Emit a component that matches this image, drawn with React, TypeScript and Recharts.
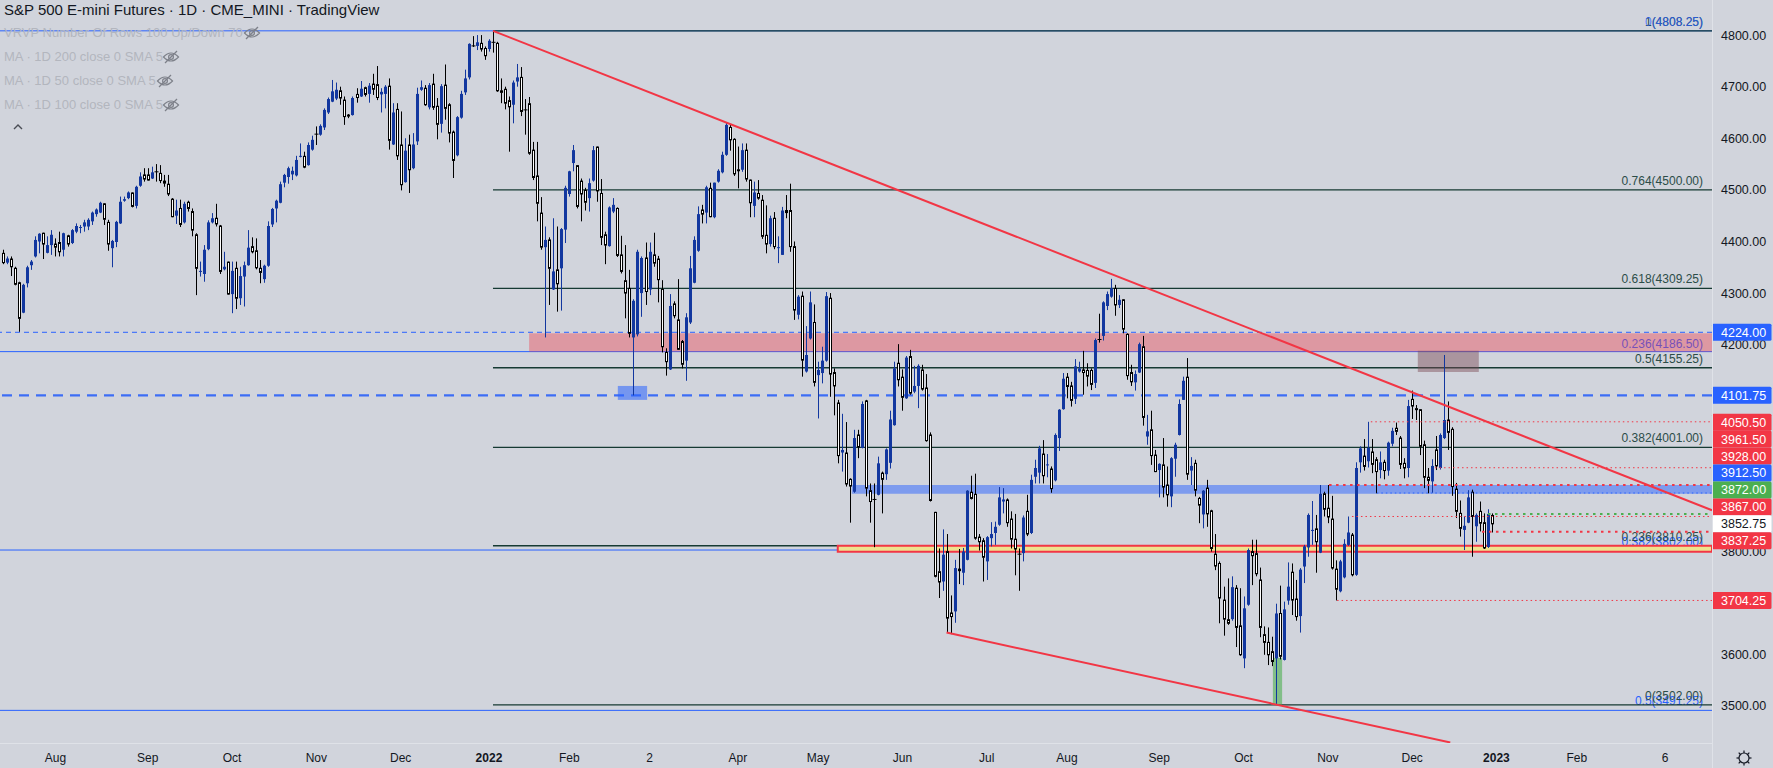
import React from 'react';
import { ComposedChart, Bar, XAxis, YAxis, ReferenceLine, ReferenceArea } from 'recharts';

const W = 1773;
const H = 768;
const BG = '#d1d4dc';
const FONT = '"Liberation Sans", Arial, sans-serif';
const UP = '#12379f';
const BLUE = '#2962ff';
const RED = '#f23645';
const GREEN = '#4caf50';
const FIB_DARK = '#163a33';
const FIB_TEXT = '#2c4c48';

// Daily candles, [open, high, low, close]; index 0 = 14 Jul 2021
const candlesA: number[][] = [
  [4377,4384,4356,4359],[4359,4371,4356,4367],[4366,4371,4333,4351],[4348,4351,4315,4317],[4320,4322,4225,4251],
  [4262,4318,4261,4316],[4319,4353,4311,4350],[4354,4364,4345,4361],[4371,4410,4369,4403],[4400,4416,4377,4415],
  [4416,4417,4366,4395],[4378,4410,4377,4393],[4393,4422,4374,4413],[4395,4406,4371,4389],[4398,4419,4371,4380],
  [4384,4417,4371,4416],[4411,4413,4390,4395],[4397,4424,4395,4422],[4419,4435,4416,4430],[4427,4432,4416,4428],
  [4429,4442,4419,4437],[4429,4445,4422,4442],[4439,4458,4432,4456],[4453,4464,4448,4462],[4456,4477,4455,4475],
  [4473,4474,4432,4443],[4437,4442,4382,4395],[4387,4403,4350,4401],[4399,4440,4389,4438],[4435,4487,4434,4477],
  [4479,4487,4477,4482],[4484,4497,4482,4495],[4494,4495,4466,4468],[4469,4508,4464,4506],[4508,4534,4506,4526],
  [4529,4542,4516,4521],[4529,4542,4518,4519],[4522,4545,4521,4534],[4535,4550,4516,4535],[4532,4548,4513,4518],
  [4517,4529,4506,4513],[4511,4529,4488,4492],[4482,4484,4447,4448],[4450,4481,4434,4460],[4464,4481,4428,4433],
  [4437,4477,4435,4473],[4476,4479,4458,4464],[4458,4464,4410,4422],[4413,4416,4296,4348],[4341,4361,4332,4343],
  [4337,4393,4322,4384],[4385,4441,4383,4437],[4437,4455,4435,4445],[4445,4473,4429,4434],[4430,4432,4337,4342],
  [4346,4380,4344,4351],[4360,4361,4297,4298],[4298,4361,4261,4343],[4348,4361,4269,4290],[4290,4351,4277,4333],
  [4332,4361,4274,4354],[4354,4422,4353,4388],[4390,4408,4377,4380],[4382,4406,4346,4349],[4348,4364,4319,4340],
  [4327,4355,4320,4353],[4353,4439,4351,4430],[4433,4465,4428,4463],[4464,4481,4437,4479],[4475,4516,4474,4511],
  [4514,4531,4505,4529],[4525,4545,4512,4542],[4530,4545,4519,4537],[4528,4566,4526,4558],[4564,4590,4563,4566],
  [4565,4574,4542,4544],[4548,4592,4547,4587],[4578,4605,4576,4597],[4608,4623,4587,4608],[4607,4627,4605,4624],
  [4621,4658,4616,4655],[4650,4679,4647,4676],[4671,4713,4670,4691],[4677,4708,4674,4694],[4692,4700,4665,4678],
  [4674,4681,4626,4642],[4645,4647,4639,4643],[4645,4681,4644,4678],[4685,4697,4669,4679],[4681,4711,4680,4696],
  [4698,4700,4681,4685],[4686,4707,4669,4702],[4705,4725,4684,4695],[4704,4740,4674,4679],[4685,4697,4650,4690],
  [4686,4703,4658,4700],[4701,4716,4578,4596],[4588,4668,4587,4650],[4656,4668,4558,4566],[4587,4652,4499,4510],
  [4515,4600,4514,4576],[4587,4607,4494,4539],[4542,4610,4540,4588],[4594,4698,4587,4686],[4694,4712,4692,4699],
  [4697,4703,4663,4665],[4660,4707,4656,4703],[4705,4725,4655,4660],[4662,4678,4598,4627],[4628,4705,4611,4701],
  [4703,4743,4636,4658],[4665,4668,4592,4610],[4612,4615,4523,4557],[4567,4643,4565,4641],[4640,4692,4638,4686],
  [4689,4733,4684,4716],[4718,4784,4714,4783],[4779,4798,4777,4779],[4779,4800,4771,4786],[4784,4800,4768,4773],
  [4774,4778,4752,4760],
];

const candlesB: number[][] = [
  [4773,4792,4768,4789],[4786,4808.25,4766,4786],[4784,4787,4690,4692],[4692,4716,4668,4689],[4695,4700,4656,4668],
  [4673,4681,4574,4661],[4665,4712,4629,4708],[4710,4744,4700,4718],[4718,4738,4643,4652],[4655,4676,4607,4655],
  [4667,4680,4568,4571],[4577,4593,4519,4524],[4527,4593,4439,4474],[4455,4486,4384,4389],[4389,4429,4214,4403],
  [4403,4408,4277,4348],[4307,4445,4306,4342],[4345,4429,4264,4318],[4348,4426,4266,4424],[4423,4508,4397,4504],
  [4492,4537,4487,4536],[4552,4587,4536,4577],[4547,4548,4464,4468],[4517,4522,4439,4492],[4499,4504,4460,4476],
  [4484,4522,4458,4513],[4518,4585,4516,4577],[4583,4584,4477,4498],[4493,4521,4393,4408],[4413,4419,4356,4393],
  [4391,4468,4390,4466],[4458,4484,4455,4471],[4464,4466,4370,4373],[4374,4411,4338,4342],[4324,4393,4251,4300],
  [4309,4345,4214,4222],[4214,4288,4101.75,4285],[4220,4384,4216,4380],[4300,4371,4254,4368],[4368,4398,4277,4303],
  [4307,4398,4296,4380],[4374,4417,4351,4358],[4366,4372,4282,4326],[4307,4325,4185,4196],[4185,4193,4140,4167],
  [4152,4298,4151,4275],[4279,4284,4251,4256],[4248,4327,4190,4191],[4206,4209,4154,4162],[4169,4261,4130,4253],
  [4243,4372,4240,4348],[4320,4410,4319,4403],[4382,4468,4380,4453],[4461,4471,4435,4453],[4456,4508,4435,4505],
  [4503,4514,4447,4448],[4447,4514,4445,4514],[4516,4540,4514,4537],[4534,4574,4532,4568],[4568,4630,4566,4626],
  [4621,4626,4576,4597],[4598,4600,4527,4531],[4539,4584,4503,4538],[4539,4590,4535,4577],[4577,4590,4516,4521],
  [4519,4520,4447,4475],[4469,4516,4447,4495],[4493,4519,4481,4484],[4480,4490,4405,4410],[4412,4470,4377,4395],
  [4395,4450,4390,4445],[4445,4457,4385,4390],[4388,4410,4358,4389],[4374,4467,4374,4460],[4460,4490,4445,4456],
  [4460,4512,4380,4390],[4390,4400,4248,4267],[4258,4296,4249,4293],[4294,4303,4138,4170],[4148,4236,4146,4180],
  [4212,4303,4210,4282],[4243,4278,4119,4127],[4141,4167,4057,4151],[4145,4196,4125,4169],[4169,4302,4167,4294],
  [4290,4300,4099,4143],[4146,4154,4063,4120],[4087,4093,3970,3985],[3991,4066,3954,3996],[3990,4050,3925,3930],
  [3939,3941,3855,3926],[3915,4035,3913,4019],[4025,4035,3980,4002],[4000,4090,3999,4085],[4091,4093,3906,3922],
  [3917,3931,3855,3896],[3900,3931,3807.5,3900],[3909,3983,3908,3970],[3951,3954,3873,3939],[3949,3999,3938,3997],
  [3971,4072,3960,4055],[4044,4167,4043,4154],[4164,4201,4119,4132],[4137,4152,4072,4098],[4096,4178,4095,4175],
  [4177,4190,4103,4106],[4109,4159,4106,4120],[4120,4162,4077,4159],[4151,4161,4111,4114],[4116,4143,4012,4014],
  [4025,4030,3896,3898],[3875,3876,3749,3751],[3760,3805,3709,3740],[3741,3842,3723,3793],[3799,3833,3642,3670],
  [3680,3714,3639,3673],[3683,3783,3661,3767],[3765,3804,3736,3762],[3758,3806,3734,3799],[3783,3918,3782,3917],
  [3914,3946,3900,3902],[3910,3950,3822,3825],[3827,3833,3801,3818],[3820,3825,3741,3788],[3780,3829,3744,3827],
  [3825,3856,3809,3833],[3835,3857,3812,3847],[3851,3924,3849,3904],[3896,3922,3873,3900],[3899,3902,3847,3855],
];

const candlesC: number[][] = [
  [3862,3877,3805,3823],[3823,3872,3753,3804],[3794,3805,3723,3794],[3796,3869,3780,3865],[3877,3909,3829,3833],
  [3835,3948,3833,3938],[3944,3977,3931,3961],[3952,4004,3931,3999],[3988,4015,3931,3946],[3966,3988,3943,3968],
  [3959,3964,3913,3921],[3937,4028,3935,4025],[4019,4075,3994,4074],[4075,4145,4074,4134],[4137,4145,4096,4119],
  [4120,4128,4080,4092],[4095,4172,4085,4158],[4148,4167,4146,4154],[4151,4188,4103,4146],[4150,4164,4119,4139],
  [4150,4154,4112,4123],[4126,4212,4116,4209],[4210,4260,4204,4210],[4217,4284,4208,4282],[4275,4303,4267,4298],
  [4293,4327.5,4291,4309],[4309,4316,4256,4277],[4277,4296,4271,4287],[4287,4288,4222,4230],[4220,4222,4132,4140],
  [4146,4161,4120,4128],[4127,4150,4111,4143],[4146,4204,4145,4201],[4196,4217,4043,4059],[4022,4064,4006,4032],
  [4035,4072,3967,3985],[3986,3996,3953,3954],[3957,3970,3904,3969],[3967,4019,3904,3924],[3928,3964,3886,3909],
  [3906,3982,3885,3980],[3979,4010,3944,4006],[4025,4094,4024,4085],[4093,4138,4093,4130],[4137,4174,3938,3949],
  [3956,3982,3928,3965],[3970,3977,3906,3918],[3902,3905,3854,3889],[3871,3918,3844,3917],[3922,3938,3847,3872],
  [3878,3880,3799,3805],[3794,3833,3763,3771],[3776,3780,3660,3709],[3705,3731,3636,3668],[3667,3747,3657,3660],
  [3668,3751,3665,3730],[3728,3734,3614,3652],[3655,3728,3597,3599],[3592,3712,3573,3689],[3696,3805,3694,3802],
  [3799,3822,3734,3791],[3795,3822,3751,3756],[3744,3768,3633,3652],[3638,3654,3599,3623],[3623,3652,3579,3599],
  [3605,3634,3577,3586],[3592,3698,3502,3679],[3679,3733,3590,3596],[3589,3702,3588,3687],[3704,3778,3696,3731],
  [3759,3776,3676,3705],[3707,3744,3665,3673],[3674,3767,3642,3764],[3770,3812,3738,3809],[3807,3873,3789,3870],
  [3839,3897,3812,3841],[3843,3870,3758,3818],[3797,3928,3796,3911],[3911,3915,3867,3881],[3883,3928,3854,3866],
  [3862,3907,3764,3767],[3765,3782,3704.25,3726],[3722,3783,3720,3780],[3749,3823,3747,3814],[3812,3867,3810,3836],
  [3831,3835,3751,3754],[3754,3972,3752,3961],[3972,4003,3952,3999],[3984,4017,3956,3964],[3974,4050.5,3962,4000],
  [3992,4017,3951,3968],[3977,3982,3912,3954],[3957,3993,3941,3972],[3972,3977,3939,3956],[3956,4012,3946,4010],
  [4008,4039,4003,4033],[4038,4049,4025,4032],[4019,4023,3959,3968],[3970,3980,3941,3961],[3961,4093,3943,4081],
  [4094,4111,4056,4081],[4076,4083,4054,4075],[4074,4075,3986,4003],[4006,4014,3922,3943],[3943,3961,3912,3937],
  [3935,3978,3913,3965],[3996,4023,3957,3965],[3961,4028,3958,4025],[4019,4180,4017,4054],[4054,4090,3996,4030],
  [4036,4040,3907,3925],[3920,3932,3864,3877],[3873,3898,3828,3844],[3841,3867,3802,3849],[3855,3918,3854,3904],
  [3914,3919,3789,3867],[3848,3873,3818,3870],[3877,3896,3838,3854],[3855,3873,3804,3806],[3808,3881,3806,3872],
  [3869,3873,3836,3852.75],
];

const monthTickIdx = [13, 36, 57, 78, 99, 121, 141, 161, 183, 203, 224, 245, 265, 288, 309, 330, 351, 372, 392, 414];
const monthTickLabels = ['Aug', 'Sep', 'Oct', 'Nov', 'Dec', '2022', 'Feb', '2', 'Apr', 'May', 'Jun', 'Jul', 'Aug', 'Sep', 'Oct', 'Nov', 'Dec', '2023', 'Feb', '6'];
// price ticks visible on the scale (others are covered by the price tags)
const priceTicks = [3500, 3600, 3800, 4200, 4300, 4400, 4500, 4600, 4700, 4800];

const X_MIN = -0.82;
const X_MAX = 425.7;
const Y_MIN = 3428;
const Y_MAX = 4868;

// Fibonacci retracement 4808.25 -> 3502 (drawn from 4 Jan 2022)
const fibStartIdx = 122;
const fibPrices = [4808.25, 4500, 4309.25, 4155.25, 4001, 3810.25, 3502];
const fibLabels = ['1(4808.25)', '0.764(4500.00)', '0.618(4309.25)', '0.5(4155.25)', '0.382(4001.00)', '0.236(3810.25)', '0(3502.00)'];
// Long-term blue fib levels
const blueFibPrices = [4808.25, 4186.5, 3802, 3491.25];
const blueFibLabels = ['0(4808.25)', '0.236(4186.50)', '0.382(3802.00)', '0.5(3491.25)'];

// Zones [x1, x2, lowPrice, highPrice]
const pinkZone = [131, X_MAX, 4186.5, 4222];
const blueZone = [211.4, X_MAX, 3911, 3928];
const yellowZone = [207.9, X_MAX, 3798.5, 3810.5];
const febBox = [153.1, 160.4, 4093, 4120];
const octBox = [316.3, 318.6, 3502, 3593];
const decBox = [352.4, 367.6, 4147, 4188];

// trendlines [x1, p1, x2, p2]
const upperTrend = [122, 4808.25, 425.7, 3879];
const lowerTrend = [235, 3642, 360.5, 3429];

// dotted levels [startIdx, price, color, heavy]
const dottedLevels: [number, number, string, boolean][] = [
  [340.7, 4050.5, RED, false],
  [356.7, 3961.5, RED, false],
  [330.3, 3928, RED, true],
  [342.2, 3912.5, BLUE, false],
  [369.9, 3872, GREEN, true],
  [336, 3867, RED, false],
  [368.4, 3837.25, RED, true],
  [332.3, 3704.25, RED, false],
];

const stackPrices = [4050.5, 3961.5, 3928, 3912.5, 3872, 3867, 3852.75, 3837.25];
const stackColors = [RED, RED, RED, BLUE, GREEN, RED, '#ffffff', RED];
const singleTags: [number, string][] = [[4224, BLUE], [4101.75, BLUE], [3704.25, RED]];

const allCandles = [...candlesA, ...candlesB, ...candlesC];
const data = allCandles.map((k, i) => ({ i, o: k[0], h: k[1], l: k[2], c: k[3], range: [k[2], k[1]] }));

const fmt = (v: number) => v.toFixed(2);

const Candle = (props: any) => {
  const { x, y, width, height, payload } = props;
  if (!payload || x == null) return null;
  const { o, h, l, c } = payload;
  const top = Math.min(y, y + height);
  const bot = Math.max(y, y + height);
  const span = h - l || 1;
  const py = (v: number) => top + ((h - v) / span) * (bot - top);
  const cx = Math.round(x + width / 2 - 0.5) + 0.5;
  const bTop = py(Math.max(o, c));
  const bBot = py(Math.min(o, c));
  if (c > o) {
    return (
      <g>
        <line x1={cx} x2={cx} y1={top} y2={bot} stroke={UP} strokeWidth={1} />
        <rect x={cx - 1.5} y={bTop} width={3} height={Math.max(1, bBot - bTop)} fill={UP} />
      </g>
    );
  }
  if (c === o) {
    return (
      <g>
        <line x1={cx} x2={cx} y1={top} y2={bot} stroke="#000" strokeWidth={1} />
        <line x1={cx - 2} x2={cx + 2} y1={bTop} y2={bTop} stroke="#000" strokeWidth={1} />
      </g>
    );
  }
  return (
    <g>
      <line x1={cx} x2={cx} y1={top} y2={bot} stroke="#000" strokeWidth={1} />
      <rect x={cx - 1} y={bTop} width={2} height={Math.max(1, bBot - bTop)} fill="#ffffff" stroke="#000" strokeWidth={1} />
    </g>
  );
};

const fibLabel = (text: string, color: string, dy: number, opacity = 1) => (p: any) => {
  const vb = p.viewBox || {};
  return (
    <text x={vb.x + vb.width - 9} y={vb.y + dy} textAnchor="end" fill={color} fillOpacity={opacity} fontSize={12} fontFamily={FONT}>
      {text}
    </text>
  );
};

const Tag = ({ y, text, bg }: { y: number; text: string; bg: string }) => (
  <g>
    <rect x={1712} y={y - 8.5} width={59.5} height={17} fill={bg} rx={1.5} />
    <text x={1721} y={y + 4.5} fill={bg === '#ffffff' ? '#131722' : '#ffffff'} fontSize={12.5} fontFamily={FONT}>
      {text}
    </text>
  </g>
);

const singleTagLabel = (price: number, bg: string) => (p: any) => {
  const vb = p.viewBox || {};
  return <Tag y={vb.y} text={fmt(price)} bg={bg} />;
};

const stackLabel = (p: any) => {
  const vb = p.viewBox || {};
  const anchor = 6;
  return (
    <g>
      {stackPrices.map((pr, k) => (
        <Tag key={k} y={vb.y + (k - anchor) * 16.95} text={fmt(pr)} bg={stackColors[k]} />
      ))}
    </g>
  );
};

const XTick = (p: any) => {
  const idx = monthTickIdx.indexOf(p.payload.value);
  const label = monthTickLabels[idx] || '';
  const bold = /^\d{4}$/.test(label);
  return (
    <text x={p.x} y={762} textAnchor="middle" fill="#131722" fontSize={12} fontWeight={bold ? 700 : 400} fontFamily={FONT}>
      {label}
    </text>
  );
};

const YTick = (p: any) => (
  <text x={1721} y={p.y + 4.5} fill="#131722" fontSize={12.5} fontFamily={FONT}>
    {fmt(p.payload.value)}
  </text>
);

const EyeOff = ({ x, y }: { x: number; y: number }) => (
  <svg style={{ position: 'absolute', left: x - 9, top: y - 8 }} width={18} height={16} viewBox="-9 -8 18 16">
    <path d="M-7.5,0 Q0,-8 7.5,0 Q0,8 -7.5,0 Z" fill="none" stroke="#7d8089" strokeWidth={1.2} />
    <circle r={2.4} fill="none" stroke="#7d8089" strokeWidth={1.2} />
    <line x1={-6} y1={6} x2={6} y2={-6} stroke="#7d8089" strokeWidth={1.3} />
  </svg>
);

const legendRows: [string, number, number][] = [
  ['VRVP Number Of Rows 100 Up/Down 70', 33, 252],
  ['MA · 1D 200 close 0 SMA 5', 57, 171],
  ['MA · 1D 50 close 0 SMA 5', 81, 165],
  ['MA · 1D 100 close 0 SMA 5', 105, 171],
];

const margin = { top: 0, right: 0, bottom: 0, left: 0 };

export default function App() {
  return (
    <div style={{ position: 'absolute', left: 0, top: 0, width: W, height: H, background: BG, overflow: 'hidden', fontFamily: FONT }}>
      <div style={{ position: 'absolute', left: 0, top: 0 }}>
        <ComposedChart width={W} height={H} data={data} margin={margin}>
          <XAxis dataKey="i" type="number" domain={[X_MIN, X_MAX]} allowDataOverflow ticks={monthTickIdx} interval={0}
            tickLine={false} axisLine={false} height={25} tick={XTick} />
          <YAxis orientation="right" type="number" domain={[Y_MIN, Y_MAX]} allowDataOverflow ticks={priceTicks} interval={0}
            tickLine={false} axisLine={false} width={61} tick={YTick} />

          {blueFibPrices.map((p, k) => (
            <ReferenceLine key={'bf' + k} ifOverflow="visible" zIndex={100}
              segment={[{ x: X_MIN, y: p }, { x: X_MAX, y: p }]} stroke={BLUE} strokeWidth={1}
              label={k === 0 ? undefined : fibLabel(blueFibLabels[k], BLUE, k === 3 ? -5 : -4)} />
          ))}
          {fibPrices.map((p, k) => (
            <ReferenceLine key={'f' + k} ifOverflow="visible" zIndex={110}
              segment={[{ x: fibStartIdx, y: p }, { x: X_MAX, y: p }]} stroke={FIB_DARK} strokeWidth={1.3}
              label={fibLabel(fibLabels[k], FIB_TEXT, -5)} />
          ))}
          <ReferenceLine ifOverflow="visible" zIndex={120} segment={[{ x: fibStartIdx, y: 4808.25 }, { x: X_MAX, y: 4808.25 }]}
            stroke="none" label={fibLabel(blueFibLabels[0], BLUE, -5, 0.75)} />
          <ReferenceLine ifOverflow="visible" zIndex={120} y={4224} stroke={BLUE} strokeWidth={1} strokeDasharray="5 4" />
          <ReferenceLine ifOverflow="visible" zIndex={120} y={4101.75} stroke="#3d6df5" strokeWidth={2.2} strokeDasharray="10 7" />

          <ReferenceArea zIndex={200} ifOverflow="visible" x1={pinkZone[0]} x2={pinkZone[1]} y1={pinkZone[2]} y2={pinkZone[3]} fill={RED} fillOpacity={0.38} stroke="none" />
          <ReferenceArea zIndex={200} ifOverflow="visible" x1={blueZone[0]} x2={blueZone[1]} y1={blueZone[2]} y2={blueZone[3]} fill={BLUE} fillOpacity={0.5} stroke="none" />
          <ReferenceArea zIndex={200} ifOverflow="visible" x1={yellowZone[0]} x2={yellowZone[1]} y1={yellowZone[2]} y2={yellowZone[3]} fill="#eee28e" fillOpacity={1} stroke={RED} strokeWidth={2} />
          <ReferenceArea zIndex={200} ifOverflow="visible" x1={febBox[0]} x2={febBox[1]} y1={febBox[2]} y2={febBox[3]} fill={BLUE} fillOpacity={0.55} stroke="none" />
          <ReferenceArea zIndex={200} ifOverflow="visible" x1={octBox[0]} x2={octBox[1]} y1={octBox[2]} y2={octBox[3]} fill={GREEN} fillOpacity={0.6} stroke="none" />
          <ReferenceArea zIndex={200} ifOverflow="visible" x1={decBox[0]} x2={decBox[1]} y1={decBox[2]} y2={decBox[3]} fill="#7a4a52" fillOpacity={0.45} stroke="none" />

          <Bar dataKey="range" barSize={3} isAnimationActive={false} shape={Candle} zIndex={300} />

          {dottedLevels.map(([s, p, col, heavy], k) => (
            <ReferenceLine key={'d' + k} ifOverflow="visible" zIndex={400}
              segment={[{ x: s, y: p }, { x: X_MAX, y: p }]} stroke={col}
              strokeWidth={heavy ? 2 : 1} strokeDasharray={heavy ? '2.5 4.5' : '1.5 3'} />
          ))}
          <ReferenceLine ifOverflow="visible" zIndex={450} segment={[{ x: upperTrend[0], y: upperTrend[1] }, { x: upperTrend[2], y: upperTrend[3] }]} stroke={RED} strokeWidth={2} />
          <ReferenceLine ifOverflow="hidden" zIndex={450} segment={[{ x: lowerTrend[0], y: lowerTrend[1] }, { x: lowerTrend[2], y: lowerTrend[3] }]} stroke={RED} strokeWidth={2} />
        </ComposedChart>
      </div>

      {/* overlay chart with the same scales: price tags drawn above the axis texts */}
      <div style={{ position: 'absolute', left: 0, top: 0 }}>
        <ComposedChart width={W} height={H} data={data} margin={margin}>
          <XAxis dataKey="i" type="number" domain={[X_MIN, X_MAX]} allowDataOverflow tick={false}
            tickLine={false} axisLine={false} height={25} />
          <YAxis orientation="right" type="number" domain={[Y_MIN, Y_MAX]} allowDataOverflow tick={false}
            tickLine={false} axisLine={false} width={61} />
          {singleTags.map(([p, col], k) => (
            <ReferenceLine key={'t' + k} y={p} stroke="none" label={singleTagLabel(p, col)} />
          ))}
          <ReferenceLine y={3852.75} stroke="none" label={stackLabel} />
        </ComposedChart>
      </div>

      <div style={{ position: 'absolute', left: 1712, top: 0, width: 1, height: H, background: '#dfe2e8' }} />
      <div style={{ position: 'absolute', left: 0, top: 743, width: 1712, height: 1, background: '#dfe2e8' }} />

      <div style={{ position: 'absolute', left: 4, top: 1, fontSize: 15, color: '#131722', whiteSpace: 'nowrap', lineHeight: '18px' }}>
        S&amp;P 500 E-mini Futures · 1D · CME_MINI · TradingView
      </div>
      {legendRows.map(([t, y, ex], k) => (
        <React.Fragment key={k}>
          <div style={{ position: 'absolute', left: 4, top: y - 9, fontSize: 13, color: '#b3b6be', whiteSpace: 'nowrap', lineHeight: '18px' }}>{t}</div>
          <EyeOff x={ex} y={y} />
        </React.Fragment>
      ))}
      <svg style={{ position: 'absolute', left: 12, top: 122 }} width={12} height={10}>
        <polyline points="2,7 6,3 10,7" fill="none" stroke="#4a4d55" strokeWidth={1.4} />
      </svg>
      <svg style={{ position: 'absolute', left: 1734, top: 748 }} width={20} height={20} viewBox="-10 -10 20 20">
        <circle r={5} fill="none" stroke="#131722" strokeWidth={1.2} />
        {[0, 45, 90, 135, 180, 225, 270, 315].map((a) => (
          <line key={a} x1={5 * Math.cos((a * Math.PI) / 180)} y1={5 * Math.sin((a * Math.PI) / 180)}
            x2={7.5 * Math.cos((a * Math.PI) / 180)} y2={7.5 * Math.sin((a * Math.PI) / 180)} stroke="#131722" strokeWidth={1.2} />
        ))}
      </svg>
    </div>
  );
}
